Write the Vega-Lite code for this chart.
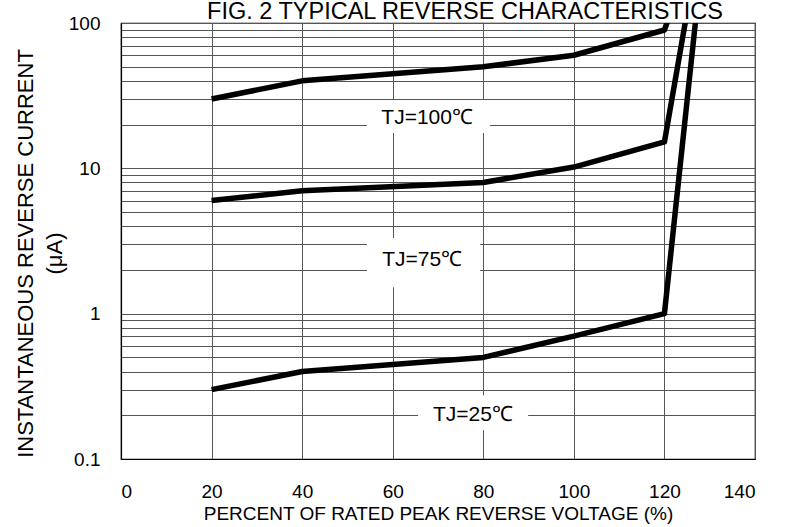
{
  "$schema": "https://vega.github.io/schema/vega-lite/v6.json",
  "width": 634,
  "height": 436,
  "autosize": "none",
  "padding": {"left": 121, "top": 23, "right": 33, "bottom": 68},
  "background": "white",
  "config": {
    "font": "Liberation Sans",
    "view": {"stroke": "#000", "strokeWidth": 1.2}
  },
  "title": {
    "text": "FIG. 2 TYPICAL REVERSE CHARACTERISTICS",
    "fontSize": 23.5,
    "fontWeight": "normal",
    "font": "Liberation Sans",
    "color": "#000",
    "baseline": "bottom",
    "anchor": "middle",
    "frame": "group",
    "orient": "top",
    "offset": 0,
    "dx": 27,
    "dy": 33.5
  },
  "datasets": {
    "curves": [
      {"series": "100", "pct": 20, "current": 30},
      {"series": "100", "pct": 40, "current": 40},
      {"series": "100", "pct": 80, "current": 50},
      {"series": "100", "pct": 100, "current": 60},
      {"series": "100", "pct": 120, "current": 89.5},
      {"series": "100", "pct": 120.8, "current": 105},
      {"series": "75", "pct": 20, "current": 6},
      {"series": "75", "pct": 40, "current": 7},
      {"series": "75", "pct": 80, "current": 8},
      {"series": "75", "pct": 100, "current": 10.2},
      {"series": "75", "pct": 120, "current": 15.2},
      {"series": "75", "pct": 124.7, "current": 105},
      {"series": "25", "pct": 20, "current": 0.3},
      {"series": "25", "pct": 40, "current": 0.4},
      {"series": "25", "pct": 80, "current": 0.5},
      {"series": "25", "pct": 100, "current": 0.7},
      {"series": "25", "pct": 120, "current": 1.0},
      {"series": "25", "pct": 126.9, "current": 105}
    ],
    "labels": [
      {"text": "TJ=100℃", "pct": 67.6, "current": 22.2, "x0": 54.3, "x1": 81.5, "y0": 17.5, "y1": 29.5},
      {"text": "TJ=75℃", "pct": 66.5, "current": 2.34, "x0": 54.3, "x1": 79.3, "y0": 1.52, "y1": 3.31},
      {"text": "TJ=25℃", "pct": 77.7, "current": 0.2, "x0": 65.6, "x1": 89.9, "y0": 0.158, "y1": 0.275}
    ]
  },
  "layer": [
    {
      "data": {"name": "labels"},
      "mark": {"type": "rect", "fill": "white", "stroke": null},
      "encoding": {
        "x": {"field": "x0", "type": "quantitative",
          "scale": {"domain": [0, 140], "nice": false},
          "axis": {
            "values": [0, 20, 40, 60, 80, 100, 120, 140],
            "grid": true, "gridColor": "#555", "gridWidth": 1, "gridOpacity": 1,
            "ticks": false, "domain": true, "domainColor": "#000", "domainWidth": 1.2,
            "labelFontSize": 19, "labelColor": "#000", "labelPadding": 23, "labelFont": "Liberation Sans",
            "title": "PERCENT OF RATED PEAK REVERSE VOLTAGE (%)",
            "titleFontSize": 19, "titleFontWeight": "normal", "titleColor": "#000", "titleFont": "Liberation Sans",
            "titleBaseline": "alphabetic", "titleY": 60
          }
        },
        "x2": {"field": "x1"},
        "y": {"field": "y0", "type": "quantitative",
          "scale": {"type": "log", "domain": [0.1, 100], "nice": false},
          "axis": {
            "values": [0.1, 0.2, 0.3, 0.4, 0.5, 0.6, 0.7, 0.8, 0.9, 1, 2, 3, 4, 5, 6, 7, 8, 9, 10, 20, 30, 40, 50, 60, 70, 80, 90, 100],
            "format": "~g",
            "labelExpr": "(datum.value == 0.1 || datum.value == 1 || datum.value == 10 || datum.value == 100) ? datum.label : ''",
            "grid": true, "gridColor": "#555", "gridWidth": 1, "gridOpacity": 1,
            "ticks": false, "domain": true, "domainColor": "#000", "domainWidth": 1.2,
            "labelFontSize": 19, "labelColor": "#000", "labelPadding": 21, "labelFont": "Liberation Sans",
            "labelOverlap": false,
            "title": ["INSTANTANEOUS REVERSE CURRENT", "(μA)"],
            "titleFontSize": 22, "titleFontWeight": "normal", "titleColor": "#000", "titleFont": "Liberation Sans",
            "titleAngle": -90, "titleAlign": "center", "titleBaseline": "alphabetic",
            "titleX": -89, "titleY": 230, "titleLineHeight": 29
          }
        },
        "y2": {"field": "y1"}
      }
    },
    {
      "data": {"name": "labels"},
      "mark": {"type": "text", "fontSize": 21, "font": "Liberation Sans", "color": "#000", "align": "center", "baseline": "middle"},
      "encoding": {
        "x": {"field": "pct", "type": "quantitative"},
        "y": {"field": "current", "type": "quantitative"},
        "text": {"field": "text"}
      }
    },
    {
      "data": {"name": "curves"},
      "mark": {"type": "line", "color": "#000", "strokeWidth": 5.5, "clip": true, "strokeJoin": "round"},
      "encoding": {
        "x": {"field": "pct", "type": "quantitative"},
        "y": {"field": "current", "type": "quantitative"},
        "detail": {"field": "series"}
      }
    }
  ]
}
